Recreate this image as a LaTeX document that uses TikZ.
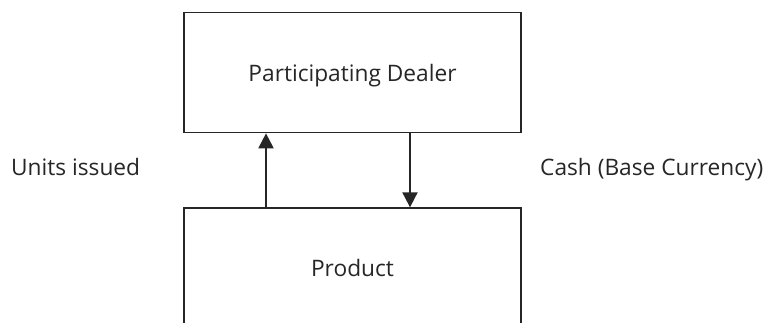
\documentclass[tikz,border=0pt]{standalone}
\usepackage{fontspec}
\setmainfont{Open Sans}
\usetikzlibrary{positioning, arrows.meta}
\tikzset{
x=1pt, y=1pt, % one unit is one pixel of the page
box/.style={draw=black!85, line width=1.3pt, minimum width=337pt, minimum height=120pt, text depth=0pt, text=black!85, font=\fontsize{22.7}{27}\selectfont}, % the two boxes
flow/.style={-{Triangle[width=15pt,length=15pt]}, line width=2pt, draw=black!85}, % the flow arrows
side text/.style={text=black!85, font=\fontsize{22.7}{27}\selectfont, inner sep=0pt}, % labels beside the arrows
}

\begin{document}
\begin{tikzpicture}
                \useasboundingbox (0,0) rectangle (770,322);
                \node[box] (dealer) at (352.5,249.3) {Participating Dealer};
                \node[box, below=74pt of dealer] (product) {Product};
                \draw[flow] ([xshift=-86.5pt]product.north) -- ([xshift=-86.5pt]dealer.south);
                \draw[flow] ([xshift=57.5pt]dealer.south) -- ([xshift=57.5pt]product.north);
                \node[side text, anchor=base west] (units) at (11,147) {Units issued};
                \node[side text, anchor=base west] (cash) at (540,147) {Cash (Base Currency)};
                \end{tikzpicture}
\end{document}
